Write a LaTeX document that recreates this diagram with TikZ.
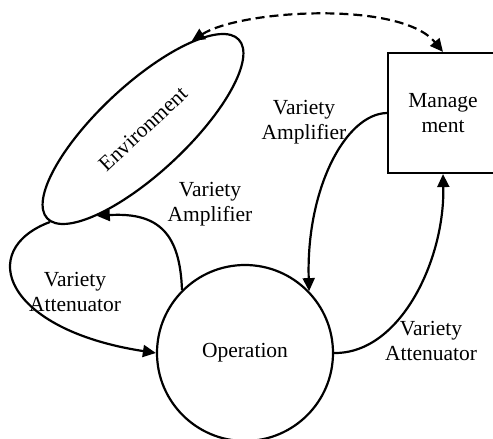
\documentclass[tikz,border=0pt]{standalone}
\usepackage{fontspec}
\setmainfont{Liberation Serif}
\usetikzlibrary{shapes.geometric,arrows.meta}
\begin{document}
\begin{tikzpicture}[x=1pt,y=1pt,
  every node/.style={font=\fontsize{21.5}{25}\selectfont, align=center, inner sep=0pt},
  shapeline/.style={draw, line width=2.2pt},
  conn/.style={line width=2.2pt, -{Triangle[length=13pt,width=12pt]}},
  bothconn/.style={line width=2.2pt, dash pattern=on 9pt off 5pt, {Triangle[length=13pt,width=12pt]}-{Triangle[length=13pt,width=12pt]}},
  lbl/.style={}
]
\useasboundingbox (0,0) rectangle (493,439);
\node[shapeline, circle, minimum size=176pt] (op) at (245,86) {Operation};
\node[shapeline, ellipse, minimum width=262pt, minimum height=88pt, rotate=43] (env) at (143,310) {Environment};
\node[shapeline, rectangle, minimum width=110pt, minimum height=120pt] (mgmt) at (443,326) {Manage\\ment};

\node[lbl] (amp1) at (304,317) {Variety\\Amplifier};
\node[lbl] (amp2) at (210,235) {Variety\\Amplifier};
\node[lbl] (att1) at (75,147) {Variety\\Attenuator};
\node[lbl] (att2) at (431,98) {Variety\\Attenuator};

\draw[bothconn] (env.18) .. controls (240,429) and (400,439) .. (mgmt.north);
\draw[conn] (mgmt.west) .. controls (345,325) and (306,249) .. (op.44);
\draw[conn] (op.east) .. controls (400,85) and (445,179) .. (mgmt.south);
\draw[conn] (op.135) .. controls (180,204) and (160,227) .. (env.199);
\draw[conn] (env.182) .. controls (-25,189) and (5,109) .. (op.west);
\end{tikzpicture}
\end{document}
